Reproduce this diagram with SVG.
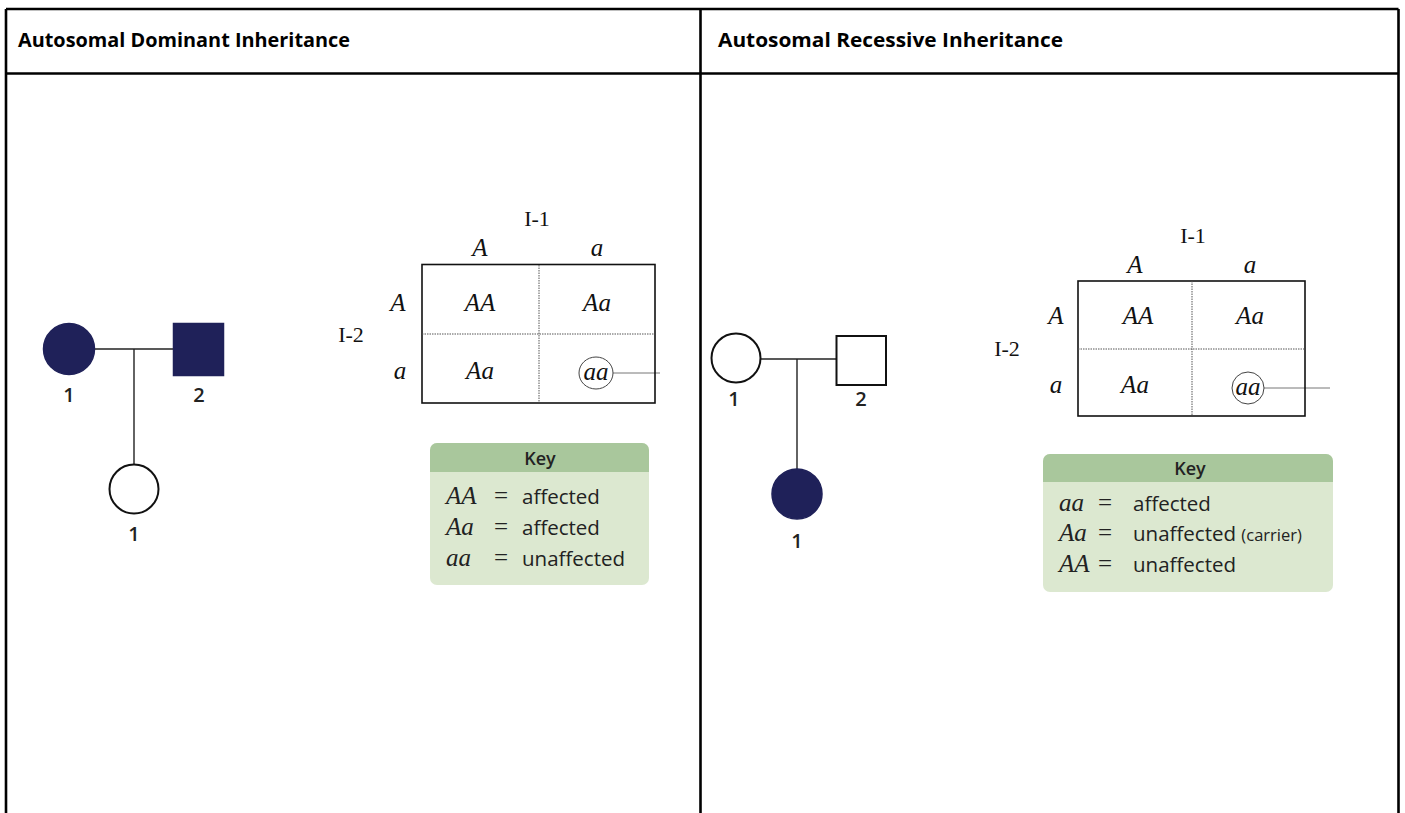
<svg xmlns="http://www.w3.org/2000/svg" width="1405" height="813" viewBox="0 0 1405 813">
  <style>
    .title { font-family: "Open Sans", "DejaVu Sans", sans-serif; font-weight: bold; font-size: 19px; fill: #000; }
    .frame { stroke: #000; stroke-width: 2.6; fill: none; }
    .link { stroke: #222; stroke-width: 1.4; fill: none; }
    .aff { fill: #1f2159; stroke: #1f2159; stroke-width: 1.5; }
    .unaff { fill: #fff; stroke: #111; stroke-width: 2; }
    .num { font-family: "Open Sans", "DejaVu Sans", sans-serif; font-weight: 600; font-size: 20px; fill: #222; text-anchor: middle; }
    .grid { fill: none; stroke: #111; stroke-width: 1.6; }
    .div { stroke: #555; stroke-width: 1; stroke-dasharray: 1.5 1; fill: none; }
    .gen { font-family: "Liberation Serif", "Times New Roman", serif; font-size: 22px; fill: #111; text-anchor: middle; }
    .allele { font-family: "Liberation Serif", "Times New Roman", serif; font-style: italic; font-size: 25px; fill: #111; text-anchor: middle; }
    .ring { fill: none; stroke: #444; stroke-width: 1; }
    .lead { stroke: #777; stroke-width: 1; fill: none; }
    .keybody { fill: #dce8d0; }
    .keyhead { fill: #a9c79c; }
    .keytitle { font-family: "Open Sans", "DejaVu Sans", sans-serif; font-weight: 600; font-size: 18px; fill: #222; text-anchor: middle; }
    .keysym { font-family: "Liberation Serif", "Times New Roman", serif; font-style: italic; font-size: 25px; fill: #222; }
    .keyeq { font-family: "Liberation Serif", "Times New Roman", serif; font-size: 25px; fill: #222; }
    .keytxt { font-family: "Open Sans", "DejaVu Sans", sans-serif; font-size: 20.5px; fill: #222; }
    .small { font-size: 16.5px; }
  </style>

  <rect width="1405" height="813" fill="#fff"/>

  <!-- table frame -->
  <g id="table">
    <line class="frame" x1="6" y1="9" x2="1398.5" y2="9"/>
    <line class="frame" x1="6" y1="73.5" x2="1398.5" y2="73.5"/>
    <line class="frame" x1="6" y1="9" x2="6" y2="813"/>
    <line class="frame" x1="700.5" y1="9" x2="700.5" y2="813"/>
    <line class="frame" x1="1398.5" y1="9" x2="1398.5" y2="813"/>
    <text class="title" x="18" y="47" textLength="332" lengthAdjust="spacingAndGlyphs">Autosomal Dominant Inheritance</text>
    <text class="title" x="718" y="47" textLength="345" lengthAdjust="spacingAndGlyphs">Autosomal Recessive Inheritance</text>
  </g>

  <!-- pedigree connectors and leader lines -->
  <g id="connectors">
    <line class="link" x1="95" y1="349" x2="173" y2="349"/>
    <line class="link" x1="134" y1="349" x2="134" y2="464"/>
    <line class="link" x1="761" y1="359" x2="836" y2="359"/>
    <line class="link" x1="797" y1="359" x2="797" y2="469"/>
    <line class="lead" x1="613" y1="373" x2="660" y2="373"/>
    <line class="lead" x1="1264" y1="388" x2="1330" y2="388"/>
  </g>

  <!-- dominant pedigree -->
  <g id="dom-I1">
    <circle class="aff" cx="69" cy="349" r="25.5"/>
    <text class="num" x="69" y="402">1</text>
  </g>
  <g id="dom-I2">
    <rect class="aff" x="173.5" y="323.5" width="50" height="52"/>
    <text class="num" x="199" y="402">2</text>
  </g>
  <g id="dom-II1">
    <circle class="unaff" cx="134" cy="489" r="24.5"/>
    <text class="num" x="134" y="541">1</text>
  </g>

  <!-- dominant punnett square -->
  <g id="dom-punnett">
    <text class="gen" x="537" y="226">I-1</text>
    <text class="allele" x="480" y="256">A</text>
    <text class="allele" x="597" y="256">a</text>
    <text class="gen" x="351" y="342">I-2</text>
    <text class="allele" x="398" y="311">A</text>
    <text class="allele" x="400" y="379">a</text>
    <rect class="grid" x="422" y="264.5" width="233" height="138.5"/>
    <line class="div" x1="539" y1="265" x2="539" y2="403"/>
    <line class="div" x1="422" y1="334" x2="655" y2="334"/>
    <text class="allele" x="480" y="311">AA</text>
    <text class="allele" x="597" y="311">Aa</text>
    <text class="allele" x="480" y="379">Aa</text>
    <text class="allele" x="596" y="380">aa</text>
    <ellipse class="ring" cx="596" cy="373" rx="17" ry="16"/>
  </g>

  <!-- dominant key -->
  <g id="dom-key">
    <rect class="keybody" x="430" y="443" width="219" height="142" rx="7"/>
    <path class="keyhead" d="M430,472 V450 a7,7 0 0 1 7,-7 H642 a7,7 0 0 1 7,7 V472 Z"/>
    <text class="keytitle" x="540" y="465">Key</text>
    <text class="keysym" x="446" y="504">AA</text>
    <text class="keyeq" x="494" y="504">=</text>
    <text class="keytxt" x="522" y="504">affected</text>
    <text class="keysym" x="446" y="535">Aa</text>
    <text class="keyeq" x="494" y="535">=</text>
    <text class="keytxt" x="522" y="535">affected</text>
    <text class="keysym" x="446" y="566">aa</text>
    <text class="keyeq" x="494" y="566">=</text>
    <text class="keytxt" x="522" y="566">unaffected</text>
  </g>

  <!-- recessive pedigree -->
  <g id="rec-I1">
    <circle class="unaff" cx="736" cy="358" r="24.5"/>
    <text class="num" x="734" y="406">1</text>
  </g>
  <g id="rec-I2">
    <rect class="unaff" x="836.5" y="336" width="49.5" height="49"/>
    <text class="num" x="861" y="406">2</text>
  </g>
  <g id="rec-II1">
    <circle class="aff" cx="797" cy="494" r="25"/>
    <text class="num" x="797" y="548">1</text>
  </g>

  <!-- recessive punnett square -->
  <g id="rec-punnett">
    <text class="gen" x="1193" y="243">I-1</text>
    <text class="allele" x="1135" y="273">A</text>
    <text class="allele" x="1250" y="273">a</text>
    <text class="gen" x="1007" y="356">I-2</text>
    <text class="allele" x="1056" y="324">A</text>
    <text class="allele" x="1056" y="393">a</text>
    <rect class="grid" x="1078" y="281" width="227" height="135"/>
    <line class="div" x1="1192" y1="281" x2="1192" y2="416"/>
    <line class="div" x1="1078" y1="349" x2="1305" y2="349"/>
    <text class="allele" x="1138" y="324">AA</text>
    <text class="allele" x="1250" y="324">Aa</text>
    <text class="allele" x="1135" y="393">Aa</text>
    <text class="allele" x="1248" y="395">aa</text>
    <ellipse class="ring" cx="1248" cy="388" rx="16" ry="16"/>
  </g>

  <!-- recessive key -->
  <g id="rec-key">
    <rect class="keybody" x="1043" y="454" width="290" height="138" rx="7"/>
    <path class="keyhead" d="M1043,482 V461 a7,7 0 0 1 7,-7 H1326 a7,7 0 0 1 7,7 V482 Z"/>
    <text class="keytitle" x="1190" y="475">Key</text>
    <text class="keysym" x="1059" y="511">aa</text>
    <text class="keyeq" x="1098" y="511">=</text>
    <text class="keytxt" x="1133" y="511">affected</text>
    <text class="keysym" x="1059" y="541">Aa</text>
    <text class="keyeq" x="1098" y="541">=</text>
    <text class="keytxt" x="1133" y="541">unaffected <tspan class="small">(carrier)</tspan></text>
    <text class="keysym" x="1059" y="572">AA</text>
    <text class="keyeq" x="1098" y="572">=</text>
    <text class="keytxt" x="1133" y="572">unaffected</text>
  </g>
</svg>
